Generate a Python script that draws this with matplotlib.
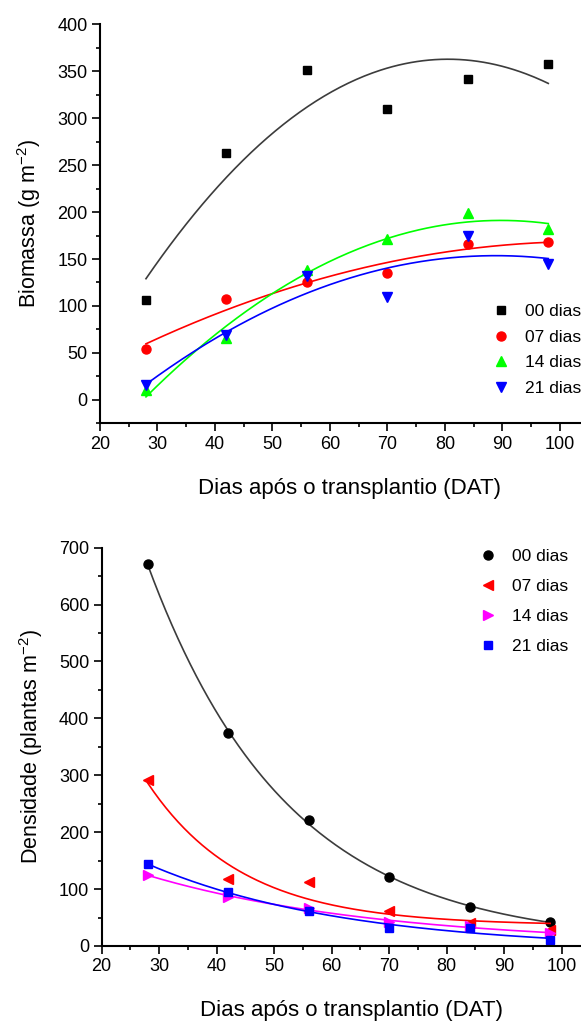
import numpy as np
import matplotlib.pyplot as plt

plt.rcParams['font.family'] = ['Liberation Sans', 'DejaVu Sans']

# dados
dat = np.array([28, 42, 56, 70, 84, 98])
trat = ['00 dias', '07 dias', '14 dias', '21 dias']

bio_00 = [106, 263, 351, 310, 342, 358]
bio_07 = [54, 107, 125, 135, 166, 168]
bio_14 = [10, 66, 138, 171, 199, 182]
bio_21 = [16, 69, 132, 110, 174, 145]

den_00 = [671, 374, 221, 121, 68, 42]
den_07 = [292, 117, 113, 62, 40, 28]
den_14 = [125, 86, 66, 43, 35, 22]
den_21 = [144, 94, 62, 31, 32, 10]

xticks = [20, 30, 40, 50, 60, 70, 80, 90, 100]
bio_ticks = [0, 50, 100, 150, 200, 250, 300, 350, 400]
den_ticks = [0, 100, 200, 300, 400, 500, 600, 700]


def fit_quad(x, y, xx):
    c = np.polyfit(x, y, 2)
    return np.polyval(c, xx)


def fit_exp(x, y, xx):
    # y = a*exp(-b*x) + c, busca em b e minimos quadrados em a, c
    y = np.asarray(y, float)
    best = None
    for b in np.linspace(0.005, 0.2, 800):
        A = np.column_stack([np.exp(-b * x), np.ones_like(x, dtype=float)])
        coef, res, _, _ = np.linalg.lstsq(A, y, rcond=None)
        err = np.sum((A @ coef - y) ** 2)
        if best is None or err < best[0]:
            best = (err, b, coef)
    _, b, (a, c) = best
    return a * np.exp(-b * xx) + c


xx = np.linspace(28, 98, 200)

fig = plt.figure(figsize=(5.81, 10.25), dpi=100)
# eixos passam da borda direita (cortados como no original)
ax1 = fig.add_axes([0.1721, 0.587, 0.8606, 0.3893])
ax2 = fig.add_axes([0.1750, 0.0771, 0.8610, 0.3886])

# --- biomassa
cores1 = ['#000000', '#ff0000', '#00ff00', '#0000ff']
linhas1 = ['#3c3c3c', '#ff0000', '#00ff00', '#0000ff']
marc1 = ['s', 'o', '^', 'v']
tam1 = [6, 6.5, 7, 7]
for y, cor, lc, m, ms, lab in zip([bio_00, bio_07, bio_14, bio_21], cores1, linhas1, marc1, tam1, trat):
    ax1.plot(xx, fit_quad(dat, y, xx), color=lc, lw=1.2)
    ax1.plot(dat, y, ls='none', marker=m, ms=ms, color=cor, label=lab)

ax1.set_xlim(20, 107)
ax1.set_ylim(-25, 400)
ax1.set_yticks(bio_ticks)
ax1.set_ylabel('Biomassa (g m$^{\\mathregular{-2}}$)', fontsize=15.5, labelpad=10)
ax1.legend(loc='center left', bbox_to_anchor=(484 / 581, 1 - 350 / 1025),
           bbox_transform=fig.transFigure, frameon=False, fontsize=12.5,
           borderpad=0, handlelength=1.0, handletextpad=0.85, labelspacing=0.6)

# --- densidade
cores2 = ['#000000', '#ff0000', '#ff00ff', '#0000ff']
linhas2 = ['#3c3c3c', '#ff0000', '#ff00ff', '#0000ff']
marc2 = ['o', '<', '>', 's']
tam2 = [6.5, 7, 7, 6]
for y, cor, lc, m, ms, lab in zip([den_00, den_07, den_14, den_21], cores2, linhas2, marc2, tam2, trat):
    ax2.plot(xx, fit_exp(dat, y, xx), color=lc, lw=1.2)
    ax2.plot(dat, y, ls='none', marker=m, ms=ms, color=cor, label=lab)

ax2.set_xlim(20, 107)
ax2.set_ylim(0, 700)
ax2.set_yticks(den_ticks)
ax2.set_ylabel('Densidade (plantas m$^{\\mathregular{-2}}$)', fontsize=15.5, labelpad=10)
ax2.legend(loc='center left', bbox_to_anchor=(471 / 581, 1 - 601.5 / 1025),
           bbox_transform=fig.transFigure, frameon=False, fontsize=12.5,
           borderpad=0, handlelength=1.0, handletextpad=0.85, labelspacing=0.85)

for ax in (ax1, ax2):
    ax.set_xticks(xticks)
    ax.set_xticks(np.arange(25, 106, 10), minor=True)
    ax.set_xlabel('Dias após o transplantio (DAT)', fontsize=16, labelpad=18)
    ax.spines['top'].set_visible(False)
    ax.spines['right'].set_visible(False)
    ax.spines['left'].set_linewidth(1.5)
    ax.spines['bottom'].set_linewidth(1.5)
    ax.tick_params(which='major', direction='out', length=5.5, width=1.2, labelsize=13)
    ax.tick_params(which='minor', direction='out', length=3, width=1.2)

ax1.set_yticks(np.arange(-25, 401, 25), minor=True)
ax2.set_yticks(np.arange(0, 701, 50), minor=True)
ax1.set_ylim(-25, 400)
ax2.set_ylim(0, 700)

fig.savefig('out.png', dpi=100)
